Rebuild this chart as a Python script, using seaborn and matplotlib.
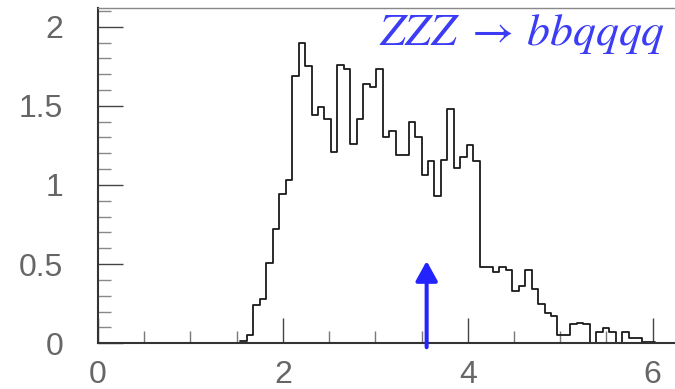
import numpy as np
import pandas as pd
import matplotlib
matplotlib.use("Agg")
import matplotlib.pyplot as plt
from matplotlib.ticker import MultipleLocator, FixedLocator
import seaborn as sns

# Histogram: lower bin edge of the first bin, bin width, and per-bin contents
first_edge = 1.54
bin_width = 0.07
counts = [
    0.015, 0.05, 0.24, 0.28, 0.51, 0.72, 0.94, 1.03, 1.69, 1.895,
    1.75, 1.44, 1.49, 1.42, 1.21, 1.76, 1.73, 1.26, 1.42, 1.64,
    1.62, 1.73, 1.30, 1.34, 1.19, 1.19, 1.40, 1.30, 1.06, 1.15,
    0.93, 1.16, 1.48, 1.105, 1.175, 1.25, 1.15, 0.48, 0.48, 0.45,
    0.48, 0.465, 0.33, 0.365, 0.46, 0.34, 0.25, 0.19, 0.17, 0.05,
    0.05, 0.12, 0.13, 0.12, 0.0, 0.073, 0.095, 0.073, 0.005, 0.073,
    0.035, 0.035, 0.01, 0.01,
]

# Cut position marked by the arrow
cut_value = 3.555
arrow_top = 0.52

x_ticklabels = ["0", "2", "4", "6"]
y_ticklabels = ["0", "0.5", "1", "1.5", "2"]
title_text = r"$ZZZ\;\rightarrow\,bbqqqq$"

n = len(counts)
edges = [round(first_edge + bin_width * i, 3) for i in range(n + 1)]
centers = [0.5 * (edges[i] + edges[i + 1]) for i in range(n)]
df = pd.DataFrame({"x": centers, "w": counts})

sns.set_style("ticks")
plt.rcParams["font.family"] = ["Liberation Sans", "DejaVu Sans"]
plt.rcParams["mathtext.fontset"] = "stix"

fig = plt.figure(figsize=(6.75, 3.89), dpi=100)
ax = fig.add_axes([98 / 675, 45.7 / 389, 582.4 / 675, 335.3 / 389])

sns.histplot(data=df, x="x", weights="w", bins=edges, element="step",
             fill=False, color="#1a1a1a", linewidth=1.3, ax=ax)

ax.set_xlim(0, 6.3)
ax.set_ylim(0, 2.118)

ax.annotate("", xy=(cut_value, arrow_top), xytext=(cut_value, -0.025),
            xycoords="data", annotation_clip=False,
            arrowprops=dict(arrowstyle="-|>,head_width=0.55,head_length=1.0",
                            color="#2323ff", lw=2.9, mutation_scale=12,
                            shrinkA=0, shrinkB=0))

# Axis ticks
ax.xaxis.set_major_locator(FixedLocator([0, 2, 4, 6]))
ax.set_xticklabels(x_ticklabels)
ax.xaxis.set_minor_locator(MultipleLocator(0.5))
ax.yaxis.set_major_locator(FixedLocator([0, 0.5, 1, 1.5, 2]))
ax.set_yticklabels(y_ticklabels)
ax.yaxis.set_minor_locator(MultipleLocator(0.1))

ax.tick_params(axis="x", which="major", direction="in", length=18, width=1.0,
               color="#444444", pad=12, labelsize=23, labelcolor="#666666")
ax.tick_params(axis="x", which="minor", direction="in", length=9, width=1.0,
               color="#777777")
ax.tick_params(axis="y", which="major", direction="in", length=18, width=1.0,
               color="#444444", pad=25, labelsize=23, labelcolor="#666666")
ax.tick_params(axis="y", which="minor", direction="in", length=9, width=1.0,
               color="#888888")
ax.tick_params(top=False, right=False)

ax.set_xlabel("")
ax.set_ylabel("")

for side in ("left", "bottom"):
    ax.spines[side].set_linewidth(1.5)
    ax.spines[side].set_color("#333333")
ax.spines["top"].set_visible(True)
ax.spines["top"].set_linewidth(1.0)
ax.spines["top"].set_color("#888888")
ax.spines["right"].set_visible(False)

fig.text(379 / 675, (389 - 45) / 389, title_text, color="#3c3cf5",
         fontsize=33, ha="left", va="baseline")

fig.savefig("out.png", dpi=100)
